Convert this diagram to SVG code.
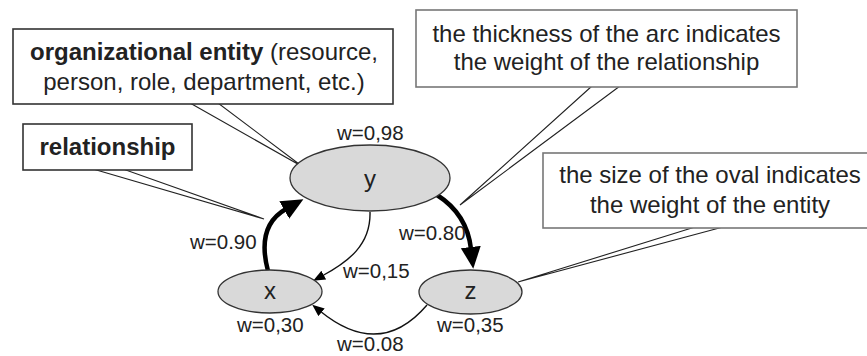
<svg xmlns="http://www.w3.org/2000/svg" width="867" height="356" viewBox="0 0 867 356">
  <style>
    text { font-family: "Liberation Sans", Arial, sans-serif; fill: #222; }
    .note { fill: #fff; stroke: #333; stroke-width: 1.6; }
    .note-grey { fill: #fff; stroke: #777; stroke-width: 1.6; }
    .tail { fill: #fff; stroke: #222; stroke-width: 1.1; stroke-linejoin: miter; }
    .ntext { font-size: 24px; text-anchor: middle; }
    .node { fill: #d9d9d9; stroke: #333; stroke-width: 1.3; }
    .nlabel { font-size: 24px; text-anchor: middle; }
    .w { font-size: 20.5px; }
    .thick { fill: none; stroke: #000; stroke-width: 4.5; }
    .thin { fill: none; stroke: #111; stroke-width: 1.4; }
  </style>
  <defs>
    <marker id="headBig" markerUnits="userSpaceOnUse" markerWidth="24" markerHeight="22" refX="2" refY="10" orient="auto">
      <path d="M0,0 L22,10 L0,20 Z" fill="#000"/>
    </marker>
    <marker id="headSmall" markerUnits="userSpaceOnUse" markerWidth="14" markerHeight="12" refX="2" refY="5" orient="auto">
      <path d="M0,0 L12,5 L0,10 Z" fill="#000"/>
    </marker>
  </defs>

  <!-- callout pointers -->
  <g id="callout-tails">
    <polygon class="tail" points="190,103 303,167 218,103"/>
    <polygon class="tail" points="93,169 264,219 123,169"/>
    <polygon class="tail" points="592,86 460,205 620,86"/>
    <polygon class="tail" points="695,227 518,282 723,227"/>
  </g>

  <!-- annotation boxes -->
  <g id="note-entity">
    <rect class="note" x="13" y="29" width="380" height="75"/>
    <text class="ntext" x="204" y="60"><tspan font-weight="bold">organizational entity</tspan> (resource,</text>
    <text class="ntext" x="204" y="90">person, role, department, etc.)</text>
  </g>
  <g id="note-relationship">
    <rect class="note" x="23" y="124" width="169" height="46"/>
    <text class="ntext" x="107.5" y="155" font-weight="bold">relationship</text>
  </g>
  <g id="note-arc">
    <rect class="note-grey" x="416" y="10" width="381" height="77"/>
    <text class="ntext" x="606.5" y="42">the thickness of the arc indicates</text>
    <text class="ntext" x="606.5" y="70">the weight of the relationship</text>
  </g>
  <g id="note-oval">
    <rect class="note-grey" x="543" y="153" width="340" height="75"/>
    <text class="ntext" x="710" y="183">the size of the oval indicates</text>
    <text class="ntext" x="710" y="213">the weight of the entity</text>
  </g>

  <!-- weighted arcs -->
  <g id="connectors">
    <path class="thick" d="M268,271 Q256,226 286,209" marker-end="url(#headBig)"/>
    <path class="thick" d="M437,195 Q467,214 471,249" marker-end="url(#headBig)"/>
    <path class="thin" d="M370,212 C371,245 348,262 322,276" marker-end="url(#headSmall)"/>
    <path class="thin" d="M427,305 Q380,360 320,311" marker-end="url(#headSmall)"/>
  </g>

  <!-- entities -->
  <g id="node-y">
    <ellipse class="node" cx="370" cy="178" rx="80" ry="33"/>
    <text class="nlabel" x="370" y="187">y</text>
  </g>
  <g id="node-x">
    <ellipse class="node" cx="270" cy="291.5" rx="52" ry="21.5"/>
    <text class="nlabel" x="270" y="299">x</text>
  </g>
  <g id="node-z">
    <ellipse class="node" cx="470.5" cy="292" rx="51.5" ry="22"/>
    <text class="nlabel" x="470.5" y="299">z</text>
  </g>

  <!-- weights -->
  <g id="weights">
    <text class="w" x="337" y="140">w=0,98</text>
    <text class="w" x="190" y="249">w=0.90</text>
    <text class="w" x="399" y="240">w=0.80</text>
    <text class="w" x="343" y="278">w=0,15</text>
    <text class="w" x="237" y="332">w=0,30</text>
    <text class="w" x="437" y="332">w=0,35</text>
    <text class="w" x="337" y="351">w=0.08</text>
  </g>
</svg>
